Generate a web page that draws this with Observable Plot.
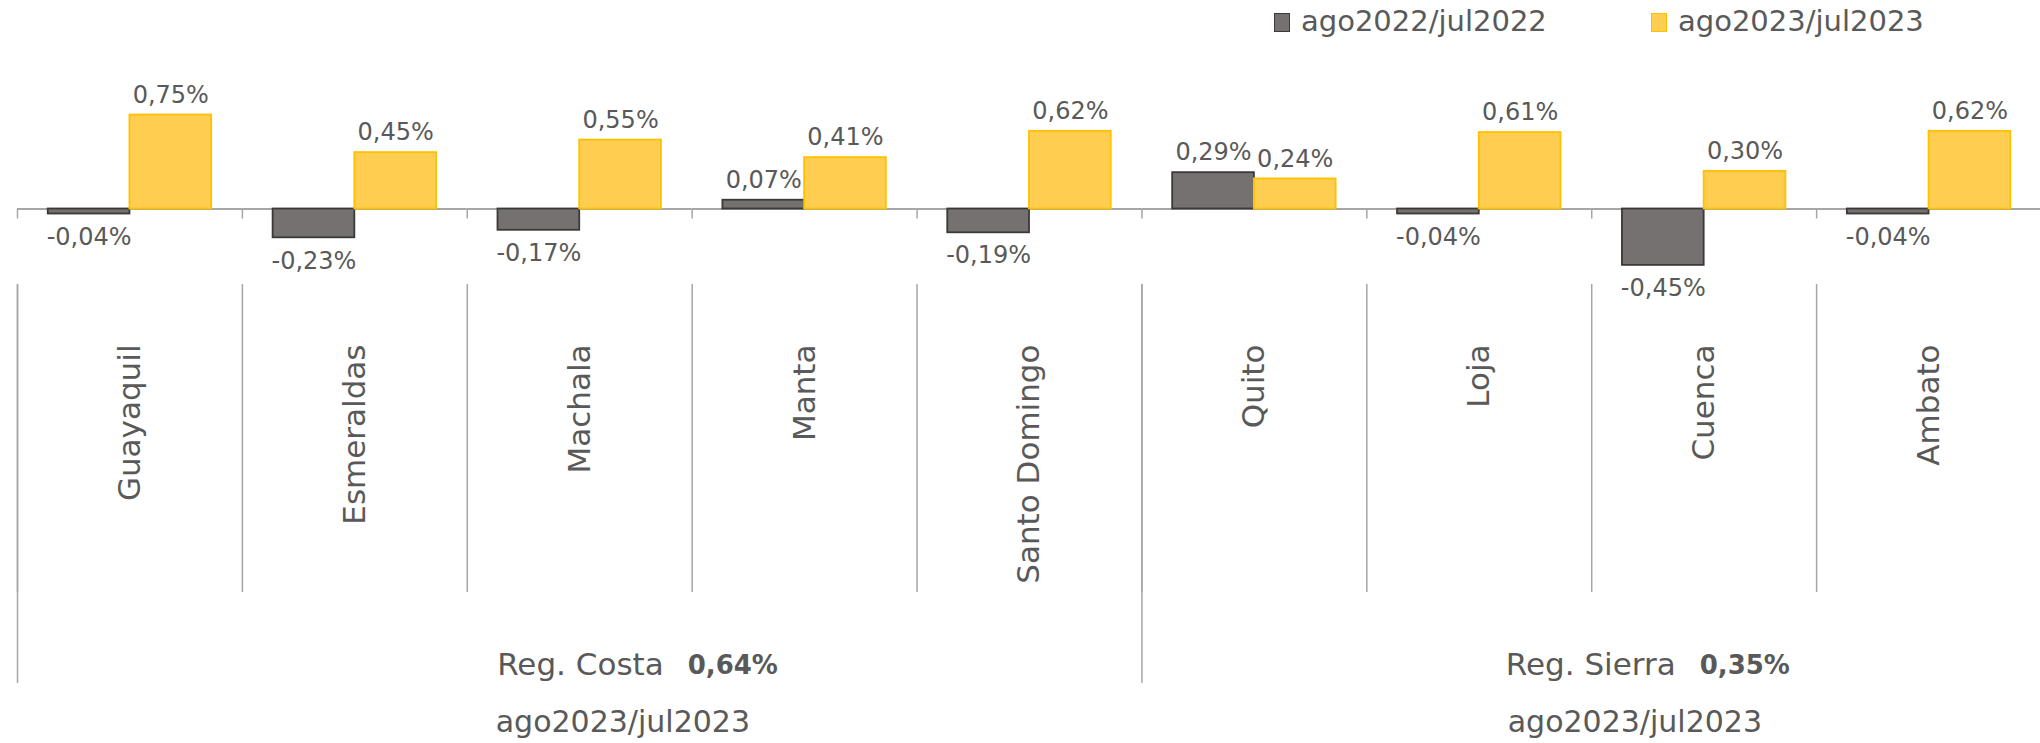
<!DOCTYPE html>
<html>
<head>
<meta charset="utf-8">
<script src="https://cdn.jsdelivr.net/npm/d3@7"></script>
<script src="https://cdn.jsdelivr.net/npm/@observablehq/plot@0.6"></script>
<style>
  html, body { margin: 0; padding: 0; background: #fff; }
  #wrap { position: relative; width: 2040px; height: 743px; font-family: "DejaVu Sans", sans-serif; color: #595959; overflow: hidden; }
  #chart { position: absolute; left: 0; top: 0; }
  .lg-sq { position: absolute; box-sizing: border-box; width: 16px; height: 19px; top: 13px; }
  .lg-tx { position: absolute; top: 7px; font-size: 29px; line-height: 29px; white-space: nowrap; }
</style>
</head>
<body>
<div id="wrap">
  <div id="chart"></div>
  <div id="legend"></div>
</div>
<script>
// ---- data ----
const cities = ["Guayaquil", "Esmeraldas", "Machala", "Manta", "Santo Domingo", "Quito", "Loja", "Cuenca", "Ambato"];
const series = ["ago2022/jul2022", "ago2023/jul2023"];
const values2022 = [-0.04, -0.23, -0.17, 0.07, -0.19, 0.29, -0.04, -0.45, -0.04];
const values2023 = [0.75, 0.45, 0.55, 0.41, 0.62, 0.24, 0.61, 0.30, 0.62];
const regions = ["Reg. Costa", "Reg. Sierra"];
const regionCities = [
  ["Guayaquil", "Esmeraldas", "Machala", "Manta", "Santo Domingo"],
  ["Quito", "Loja", "Cuenca", "Ambato"]
];
const regionValues = [0.64, 0.35];
const regionPeriod = "ago2023/jul2023";

// ---- styles ----
const fills = ["#767171", "#FFCD50"];
const strokes = ["#3B3838", "#FFC000"];
const textColor = "#595959";
const lineColor = "#A6A6A6";

const W = 2040, H = 743, mL = 17, mR = 0;
const fxRange = [17, 2041];
const bw = (fxRange[1] - fxRange[0]) / cities.length;
const zeroPx = 208.5, pxPerUnit = 125.3;

const fmt = v => v.toFixed(2).replace(".", ",") + "%";

const rows = cities.flatMap((c, i) => [
  {city: c, series: series[0], value: values2022[i]},
  {city: c, series: series[1], value: values2023[i]}
]);

const marks = [
  // category dividers (inner ones and region boundaries)
  Plot.ruleX(cities, {fx: d => d, x: null, dx: -bw / 2, insetTop: 284, insetBottom: H - 592, stroke: lineColor, strokeWidth: 1.5}),
  Plot.ruleX(regionCities.map(g => g[0]), {fx: d => d, x: null, dx: -bw / 2, insetTop: 284, insetBottom: H - 683, stroke: lineColor, strokeWidth: 1.5}),
  // small ticks on the zero axis
  Plot.ruleX(cities, {fx: d => d, x: null, y1: 0, y2: 0, insetBottom: -10, dx: -bw / 2, stroke: lineColor, strokeWidth: 1.5}),
  // zero axis
  Plot.ruleY([0], {stroke: lineColor, strokeWidth: 2}),
  // bars
  ...series.map((s, k) => Plot.barY(rows.filter(r => r.series === s), {
    fx: "city", x: "series", y: "value", fill: fills[k], stroke: strokes[k], strokeWidth: 1.8
  })),
  // value labels
  Plot.text(rows.filter(r => r.value >= 0), {fx: "city", x: "series", y: "value", text: d => fmt(d.value), lineAnchor: "middle", dy: -20, fontSize: 24, fill: textColor}),
  Plot.text(rows.filter(r => r.value < 0), {fx: "city", x: "series", y: "value", text: d => fmt(d.value), lineAnchor: "middle", dy: 23, fontSize: 24, fill: textColor}),
  // category labels
  Plot.text(cities, {fx: d => d, text: d => d, frameAnchor: "top", lineAnchor: "middle", rotate: -90, textAnchor: "end", dy: 344, fontSize: 31, fill: textColor})
];

// region labels
regions.forEach((name, i) => {
  const cs = regionCities[i];
  const center = cs.length * bw / 2;
  const common = {fx: () => cs[0], frameAnchor: "top-left", lineAnchor: "middle", fill: textColor};
  marks.push(Plot.text([name], {...common, text: d => d, textAnchor: "end", dx: center + 84, dy: 665, fontSize: 31}));
  marks.push(Plot.text([regionValues[i]], {...common, text: d => fmt(d), textAnchor: "start", dx: center + 108, dy: 665, fontSize: 26, fontWeight: "bold"}));
  marks.push(Plot.text([regionPeriod], {...common, text: d => d, textAnchor: "start", dx: center - 84, dy: 722, fontSize: 30}));
});

const chart = Plot.plot({
  width: W,
  height: H,
  marginLeft: mL,
  marginRight: mR,
  marginTop: 0,
  marginBottom: 0,
  style: {fontFamily: "DejaVu Sans", background: "transparent", overflow: "visible"},
  fx: {domain: cities, padding: 0, round: false, range: fxRange, axis: null},
  x: {domain: series, paddingInner: 0, paddingOuter: 0.376, round: false, axis: null},
  y: {domain: [-0.5, 0.8], range: [zeroPx + 0.5 * pxPerUnit, zeroPx - 0.8 * pxPerUnit], axis: null},
  marks
});
document.getElementById("chart").appendChild(chart);

// legend
const legendX = [1274, 1651];
const legend = document.getElementById("legend");
series.forEach((s, k) => {
  const sq = document.createElement("div");
  sq.className = "lg-sq";
  sq.style.left = legendX[k] + "px";
  sq.style.background = fills[k];
  sq.style.border = "1.5px solid " + strokes[k];
  legend.appendChild(sq);
  const tx = document.createElement("div");
  tx.className = "lg-tx";
  tx.style.left = (legendX[k] + 27) + "px";
  tx.textContent = s;
  legend.appendChild(tx);
});
</script>
</body>
</html>
